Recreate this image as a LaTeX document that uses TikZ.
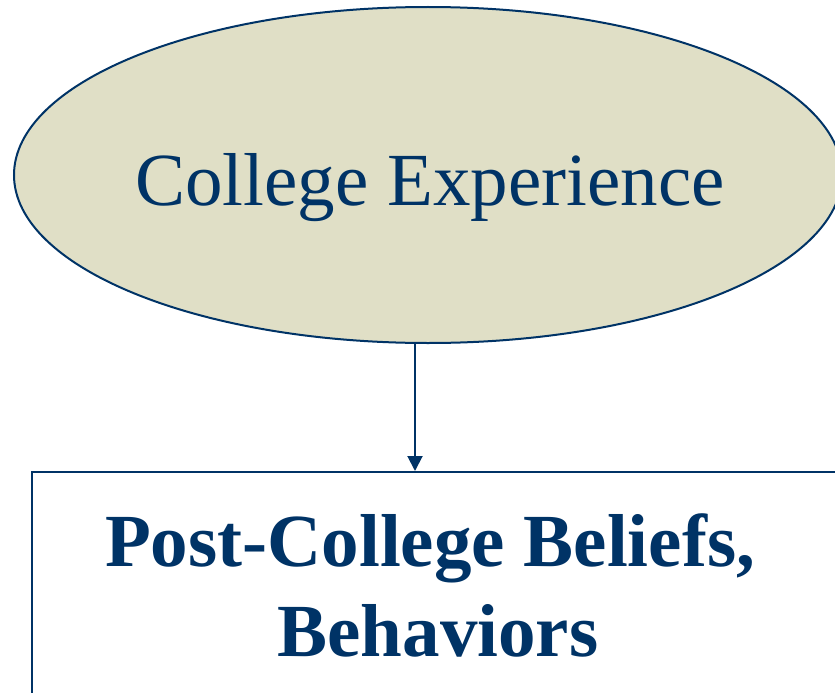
\documentclass[tikz,border=0pt]{standalone}
\usepackage{fontspec}
\setmainfont{Liberation Serif}
\usetikzlibrary{shapes.geometric,arrows.meta}
\definecolor{navy}{RGB}{0,51,102}
\definecolor{khaki}{RGB}{224,223,198}
\tikzset{
  ellbox/.style={ellipse,draw=navy,fill=khaki,line width=2pt,inner sep=0pt,minimum width=828pt,minimum height=336pt},
  rectbox/.style={rectangle,draw=navy,line width=2pt,inner sep=0pt,minimum width=809pt,minimum height=280pt,anchor=north west},
  bigtext/.style={text=navy,font=\fontsize{75}{90}\selectfont,inner sep=0pt},
  link/.style={draw=navy,line width=2pt,-{Triangle[length=15pt,width=15pt]}}
}
\begin{document}
\begin{tikzpicture}[x=1pt,y=-1pt]
\useasboundingbox (0,0) rectangle (835,693);
\begin{scope}
\clip (0,0) rectangle (835,693);
\node[ellbox] (ell) at (428,175) {};
\node[bigtext,anchor=base] (t1) at (430,205) {College Experience};
\node[rectbox] (box) at (31,471) {};
\node[bigtext,font=\fontsize{75}{90}\selectfont\bfseries,align=center,anchor=base] (t2) at (430,656) {Post-College Beliefs,\\\hspace*{16pt}Behaviors};
\coordinate (ax) at (415,0);
\draw[link] (ell.south -| ax) -- (box.north -| ax);
\end{scope}
\end{tikzpicture}
\end{document}
